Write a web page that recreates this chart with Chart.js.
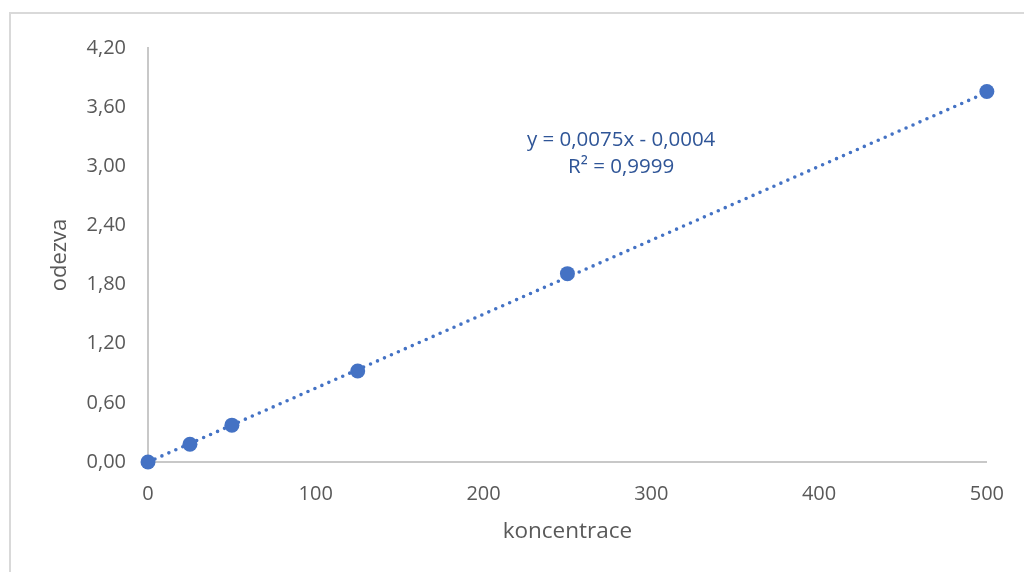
<!DOCTYPE html>
<html>
<head>
<meta charset="utf-8">
<script src="https://cdn.jsdelivr.net/npm/chart.js@4.4.1/dist/chart.umd.min.js"></script>
<style>
  html, body { margin: 0; padding: 0; background: #fff; width: 1024px; height: 572px; overflow: hidden; }
  #frame { position: absolute; left: 9px; top: 12px; width: 1100px; height: 700px; border: 2px solid #d9d9d9; box-sizing: border-box; }
  #wrap { position: absolute; left: 0; top: 0; width: 1024px; height: 572px; }
</style>
</head>
<body>
<div id="frame"></div>
<div id="wrap"><canvas id="c" width="1024" height="572"></canvas></div>
<script>
// ---- data ----
const concentrations = [0, 25, 50, 125, 250, 500];
const responses = [0, 0.18, 0.374, 0.923, 1.911, 3.758];
const xTickLabels = ['0', '100', '200', '300', '400', '500'];
const yTickLabels = ['0,00', '0,60', '1,20', '1,80', '2,40', '3,00', '3,60', '4,20'];
const trendSlope = 0.0075;
const trendIntercept = -0.0004;
const equationLines = ['y = 0,0075x - 0,0004', 'R² = 0,9999'];
const xTitle = 'koncentrace';
const yTitle = 'odezva';

const FONT = '"Open Sans", "Noto Sans", sans-serif';
const blue = '#4472C4';
const gray = '#595959';

const points = concentrations.map((x, i) => ({ x: x, y: responses[i] }));
const xMin = concentrations[0], xMax = concentrations[concentrations.length - 1];
const trend = [
  { x: xMin, y: trendSlope * xMin + trendIntercept },
  { x: xMax, y: trendSlope * xMax + trendIntercept }
];

const equationPlugin = {
  id: 'equation',
  afterDatasetsDraw(chart) {
    const ctx = chart.ctx;
    const xs = chart.scales.x, ys = chart.scales.y;
    const cx = xs.getPixelForValue(282);
    const cy = ys.getPixelForValue(3.265);
    ctx.save();
    ctx.font = '20.5px ' + FONT;
    ctx.fillStyle = '#2F5597';
    ctx.textAlign = 'center';
    ctx.textBaseline = 'middle';
    equationLines.forEach((t, i) => ctx.fillText(t, cx, cy + i * 27));
    ctx.restore();
  }
};

new Chart(document.getElementById('c'), {
  type: 'scatter',
  data: {
    datasets: [
      {
        label: 'odezva',
        data: points,
        backgroundColor: blue,
        borderColor: blue,
        pointRadius: 7.5,
        pointHoverRadius: 7.5,
        borderWidth: 0,
        clip: false,
        order: 0
      },
      {
        label: 'trend',
        data: trend,
        showLine: true,
        pointRadius: 0,
        borderColor: blue,
        borderWidth: 3.6,
        borderDash: [0, 7.6],
        borderCapStyle: 'round',
        clip: false,
        order: 1
      }
    ]
  },
  options: {
    responsive: false,
    animation: false,
    events: [],
    layout: { padding: { top: 48, right: 36, left: 0, bottom: 0 } },
    plugins: {
      legend: { display: false },
      tooltip: { enabled: false }
    },
    scales: {
      x: {
        type: 'linear',
        min: 0, max: 500,
        afterFit(s) { s.height = 110; },
        grid: { display: false, drawTicks: false, tickLength: 0 },
        border: { display: true, color: '#c8c8c8', width: 2 },
        ticks: {
          stepSize: 100,
          padding: 20,
          color: gray,
          font: { family: FONT, size: 20 },
          callback: (v, i) => xTickLabels[i]
        },
        title: {
          display: true, text: xTitle, color: gray,
          font: { family: FONT, size: 22.5 },
          padding: { top: 0, bottom: 27 }
        }
      },
      y: {
        type: 'linear',
        min: 0, max: 4.2,
        afterFit(s) { s.width = 148; },
        grid: { display: false, drawTicks: false, tickLength: 0 },
        border: { display: true, color: '#c8c8c8', width: 2 },
        ticks: {
          stepSize: 0.6,
          padding: 22,
          color: gray,
          font: { family: FONT, size: 20 },
          callback: (v, i) => yTickLabels[i]
        },
        title: {
          display: true, text: yTitle, color: gray,
          font: { family: FONT, size: 22 },
          padding: { top: 47, bottom: 0 }
        }
      }
    }
  },
  plugins: [equationPlugin]
});
</script>
</body>
</html>
